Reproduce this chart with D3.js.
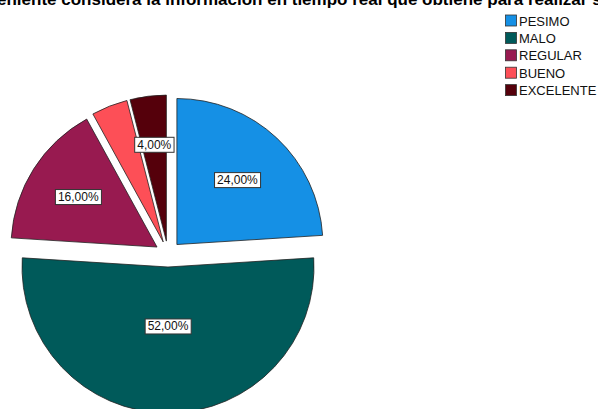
<!DOCTYPE html>
<html>
<head>
<meta charset="utf-8">
<script src="https://cdn.jsdelivr.net/npm/d3@7"></script>
<style>
  html, body { margin: 0; padding: 0; background: #fff; }
  svg { display: block; font-family: "Liberation Sans", Arial, sans-serif; }
</style>
</head>
<body>
<svg id="chart" width="598" height="409"></svg>
<script>
// Response categories and their percentages
const categories = ["PESIMO", "MALO", "REGULAR", "BUENO", "EXCELENTE"];
const percentages = [24, 52, 16, 4, 4];
const sliceColors = ["#1590e5", "#005a5a", "#981a50", "#fd4f57", "#55000b"];
const titleText = "¿Qué tan conveniente considera la información en tiempo real que obtiene para realizar su trabajo?";

const svg = d3.select("#chart");
const cx = 168, cy = 254, radius = 146, explode = 13;

// Title: centred over the full plot, wider than the visible canvas
const title = svg.append("text")
  .attr("y", 5)
  .attr("font-size", 17)
  .attr("font-weight", "bold")
  .attr("fill", "#000")
  .text(titleText);
const lead = title.node().getSubStringLength(0, 13);
title.attr("x", -3 - lead);

// Pie layout, starting at 12 o'clock and running clockwise
const pie = d3.pie().sort(null).value(d => d.value).startAngle(0).endAngle(2 * Math.PI);
const arc = d3.arc().innerRadius(0).outerRadius(radius);
const color = d3.scaleOrdinal().domain(categories).range(sliceColors);
const total = d3.sum(percentages);

const arcs = pie(categories.map((c, i) => ({ name: c, value: percentages[i] })));

const g = svg.append("g").attr("transform", `translate(${cx},${cy})`);

function offsetOf(d) {
  const mid = (d.startAngle + d.endAngle) / 2;
  return [Math.sin(mid) * explode, -Math.cos(mid) * explode];
}

g.selectAll("path.slice")
  .data(arcs)
  .join("path")
  .attr("class", "slice")
  .attr("transform", d => { const [dx, dy] = offsetOf(d); return `translate(${dx},${dy})`; })
  .attr("d", arc)
  .attr("fill", d => color(d.data.name))
  .attr("stroke", "#222")
  .attr("stroke-width", 0.8);

// Value labels at each sector's centroid; labels that would collide are dropped
const fmt = v => d3.format(".2f")(v).replace(".", ",") + "%";
const placed = [];
const labelLayer = g.append("g");
arcs.slice().reverse().forEach(d => {
  const mid = (d.startAngle + d.endAngle) / 2;
  const half = (d.endAngle - d.startAngle) / 2;
  const dist = 2 * radius * Math.sin(half) / (3 * half);
  const [ox, oy] = offsetOf(d);
  const x = ox + Math.sin(mid) * dist;
  const y = oy - Math.cos(mid) * dist;
  const t = labelLayer.append("text")
    .attr("x", x).attr("y", y)
    .attr("text-anchor", "middle")
    .attr("dominant-baseline", "central")
    .attr("font-size", 12)
    .attr("fill", "#111")
    .text(fmt(d.data.value / total * 100));
  const bb = t.node().getBBox();
  const box = { x0: bb.x - 2.5, y0: y - 7.5, x1: bb.x + bb.width + 2.5, y1: y + 7.5 };
  const hit = placed.some(p => box.x0 < p.x1 && box.x1 > p.x0 && box.y0 < p.y1 && box.y1 > p.y0);
  if (hit) { t.remove(); return; }
  placed.push(box);
  labelLayer.insert("rect", () => t.node())
    .attr("x", box.x0).attr("y", box.y0)
    .attr("width", box.x1 - box.x0).attr("height", box.y1 - box.y0)
    .attr("fill", "#fff")
    .attr("stroke", "#333")
    .attr("stroke-width", 1);
});

// Legend
const legendY = d3.scaleBand().domain(categories).range([11.8, 98.8]).paddingInner(0);
const legend = svg.append("g").attr("transform", "translate(505,0)");
const rows = legend.selectAll("g").data(categories).join("g")
  .attr("transform", d => `translate(0,${legendY(d) + legendY.bandwidth() / 2})`);
rows.append("rect")
  .attr("x", 0.5).attr("y", -5.5).attr("width", 11).attr("height", 11)
  .attr("fill", d => color(d))
  .attr("stroke", "#333").attr("stroke-width", 0.8);
rows.append("text")
  .attr("x", 14).attr("y", 0.5)
  .attr("dominant-baseline", "central")
  .attr("font-size", 13)
  .attr("fill", "#111")
  .text(d => d);
</script>
</body>
</html>
